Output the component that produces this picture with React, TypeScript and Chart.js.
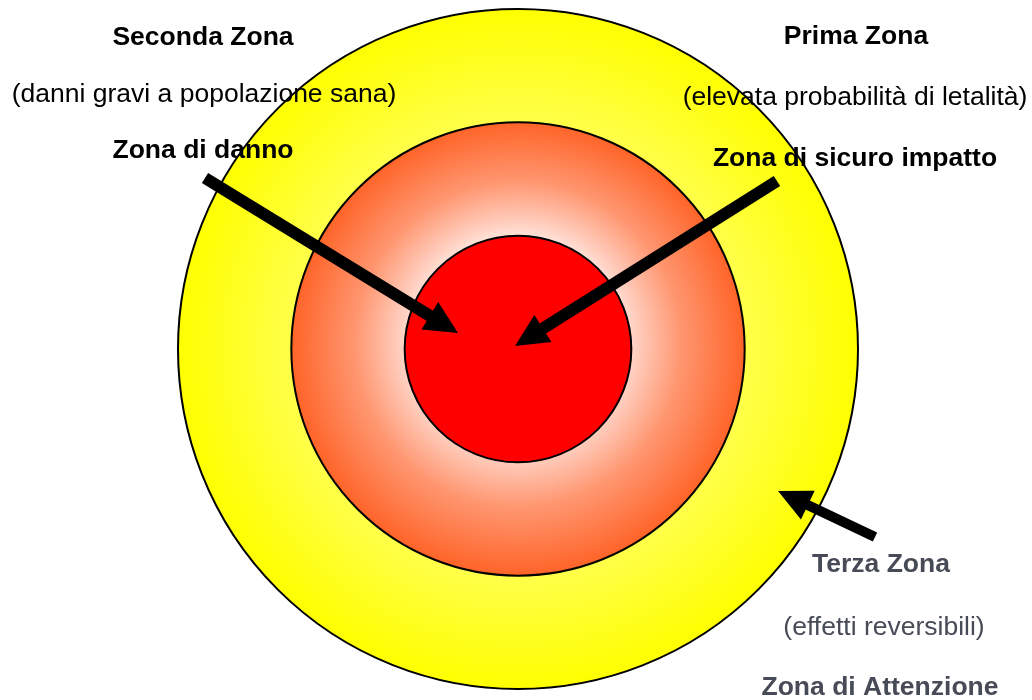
import React, { useEffect, useRef } from "react";
import { Chart, registerables } from "chart.js";

Chart.register(...registerables);

// Zones, from outermost ring to innermost disk
const zoneNames = ["Terza Zona", "Seconda Zona", "Prima Zona"];
const zoneValues = [[1], [1], [1]];
const zoneLabels = ["Zona"];

// Annotation texts
const labelTexts = [
  "Seconda Zona",
  "(danni gravi a popolazione sana)",
  "Zona di danno",
  "Prima Zona",
  "(elevata probabilità di letalità)",
  "Zona di sicuro impatto",
  "Terza Zona",
  "(effetti reversibili)",
  "Zona di Attenzione",
];

// Layout of annotations (offsets from the chart centre, in units where outer radius = 340)
const REF_R = 340;
const labelLayout = [
  { dx: -315, dy: -304, bold: true, color: "#000000" },
  { dx: -314, dy: -247, bold: false, color: "#000000" },
  { dx: -315, dy: -191, bold: true, color: "#000000" },
  { dx: 338, dy: -305, bold: true, color: "#000000" },
  { dx: 337, dy: -244, bold: false, color: "#000000" },
  { dx: 337, dy: -183, bold: true, color: "#000000" },
  { dx: 363, dy: 223, bold: true, color: "#474b57" },
  { dx: 366, dy: 286, bold: false, color: "#474b57" },
  { dx: 362, dy: 346, bold: true, color: "#474b57" },
];
const arrowLayout = [
  { tx: -313, ty: -171, hx: -60, hy: -16, w: 12 },
  { tx: 259, ty: -168, hx: -3, hy: -3, w: 12 },
  { tx: 357, ty: 188, hx: 260, hy: 142, w: 10 },
];

function geom(chart: any) {
  const ca = chart.chartArea;
  const cx = (ca.left + ca.right) / 2;
  const cy = (ca.top + ca.bottom) / 2;
  const R = Math.min(ca.width, ca.height) / 2;
  return { cx, cy, R };
}

function ringFill(index: number) {
  return (ctx: any) => {
    const chart = ctx.chart;
    if (!chart.chartArea) return ["#ffff00", "#ff7040", "#ff0000"][index];
    const { cx, cy, R } = geom(chart);
    const c = chart.ctx;
    if (index === 0) {
      const g = c.createRadialGradient(cx, cy, (R * 2) / 3, cx, cy, R);
      g.addColorStop(0, "#ffff4a");
      g.addColorStop(1, "#ffff00");
      return g;
    }
    if (index === 1) {
      const g = c.createRadialGradient(cx, cy - R * 0.05, 0, cx, cy, (R * 2) / 3);
      g.addColorStop(0, "#ffffff");
      g.addColorStop(0.4, "#fff6f2");
      g.addColorStop(0.52, "#ffcfc0");
      g.addColorStop(0.72, "#ff9670");
      g.addColorStop(1, "#ff6428");
      return g;
    }
    return "#ff0000";
  };
}

const ringBorderPlugin = {
  id: "ringBorders",
  afterDatasetsDraw(chart: any) {
    const c = chart.ctx;
    c.save();
    c.strokeStyle = "#000000";
    c.lineWidth = 2;
    chart.data.datasets.forEach((_: any, i: number) => {
      const arc = chart.getDatasetMeta(i).data[0];
      if (!arc) return;
      c.beginPath();
      c.arc(arc.x, arc.y, arc.outerRadius, 0, Math.PI * 2);
      c.stroke();
    });
    c.restore();
  },
};

const annotationPlugin = {
  id: "zoneAnnotations",
  afterDraw(chart: any) {
    const { cx, cy, R } = geom(chart);
    const s = R / REF_R;
    const c = chart.ctx;
    c.save();
    // arrows
    arrowLayout.forEach((a) => {
      const tx = cx + a.tx * s, ty = cy + a.ty * s;
      const hx = cx + a.hx * s, hy = cy + a.hy * s;
      const dx = hx - tx, dy = hy - ty;
      const len = Math.hypot(dx, dy);
      const ux = dx / len, uy = dy / len;
      const headLen = 33 * s, headHalf = 16 * s;
      const bx = hx - ux * headLen, by = hy - uy * headLen;
      c.strokeStyle = "#000";
      c.lineWidth = a.w * s;
      c.lineCap = "butt";
      c.beginPath();
      c.moveTo(tx, ty);
      c.lineTo(bx + ux * 2, by + uy * 2);
      c.stroke();
      c.fillStyle = "#000";
      c.beginPath();
      c.moveTo(hx, hy);
      c.lineTo(bx - uy * headHalf, by + ux * headHalf);
      c.lineTo(bx + uy * headHalf, by - ux * headHalf);
      c.closePath();
      c.fill();
    });
    // labels
    c.textAlign = "center";
    c.textBaseline = "alphabetic";
    labelTexts.forEach((t, i) => {
      const l = labelLayout[i];
      c.font = `${l.bold ? "bold " : ""}${(26.5 * s).toFixed(1)}px "Liberation Sans", Arial, sans-serif`;
      c.fillStyle = l.color;
      c.fillText(t, cx + l.dx * s, cy + l.dy * s);
    });
    c.restore();
  },
};

export default function App() {
  const ref = useRef<HTMLCanvasElement | null>(null);
  useEffect(() => {
    if (!ref.current) return;
    const chart = new Chart(ref.current, {
      type: "pie",
      data: {
        labels: zoneLabels,
        datasets: zoneNames.map((name, i) => ({
          label: name,
          data: zoneValues[i],
          backgroundColor: ringFill(i),
          borderWidth: 0,
          hoverOffset: 0,
        })),
      },
      options: {
        animation: false,
        responsive: true,
        maintainAspectRatio: false,
        layout: { padding: { left: 4, right: 0, top: 9, bottom: 11 } },
        plugins: {
          legend: { display: false },
          tooltip: { enabled: false },
          title: { display: false },
        },
        events: [],
      },
      plugins: [ringBorderPlugin, annotationPlugin],
    });
    return () => chart.destroy();
  }, []);
  return (
    <div style={{ position: "absolute", left: 0, top: 0, width: 1032, height: 700, background: "#fff" }}>
      <canvas ref={ref} />
    </div>
  );
}
